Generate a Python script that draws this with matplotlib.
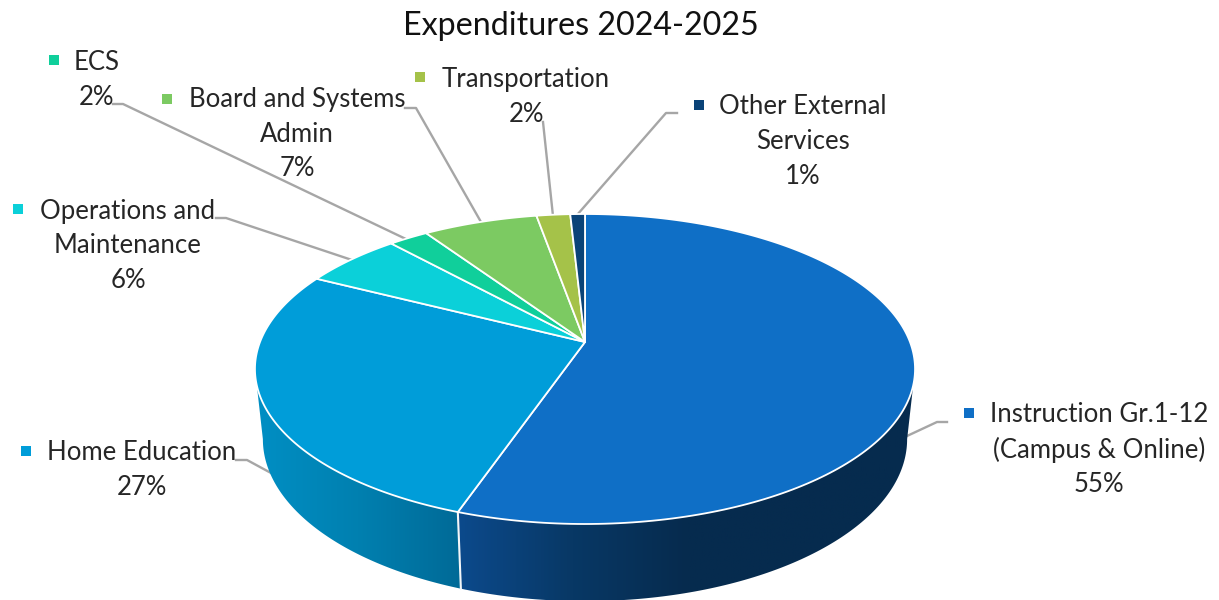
import numpy as np
import matplotlib
matplotlib.use('Agg')
import matplotlib.pyplot as plt
from matplotlib.colors import LinearSegmentedColormap
from matplotlib.patches import Polygon

# data
names = ['Instruction Gr.1-12\n(Campus & Online)', 'Home Education', 'Operations and\nMaintenance',
         'ECS', 'Board and Systems\nAdmin', 'Transportation', 'Other External\nServices']
values = [55.3, 27.2, 5.75, 2.3, 6.65, 1.95, 0.85]

# styles
colors = ['#0f6fc6', '#009dd9', '#0bd0d9', '#10cf9b', '#7cca62', '#a5c249', '#0a4378']
wall_colors = {0: ['#0c4a8c', '#083865', '#062b4e', '#062b4e', '#062b4e'], 1: ['#008fc4', '#0080b0', '#006a97']}
# label centre x, first line y, marker x, marker y
label_pos = [(1099, 415, 969, 413), (142, 453, 26, 451), (128, 211, 18, 209), (97, 63, 54, 60),
             (297, 100, 167, 99), (526, 80, 420, 77), (803, 107, 699, 105)]
leaders = [[(947, 422), (937, 422), (907, 436)],
           [(236, 460), (247, 460), (271, 473)],
           [(216, 218), (226, 218), (352, 260)],
           [(113, 104), (123, 104), (408, 240)],
           [(405, 108), (416, 108), (481, 222)],
           [(543, 122), (553, 216)],
           [(677, 113), (666, 113), (577, 215)]]

# perspective of the disc
cx, cy = 585, 342
Rx, Ry, k = 325, 150.3, 0.1742


def top_rim(theta):
    u, v = np.sin(theta), np.cos(theta)
    w = 1 + k * v
    return Rx * u / w, Ry * v / w


def bottom_rim(theta):
    X, Y = top_rim(theta)
    return cx + 0.976 * X, cy + 69 - 1.045 * Y


plt.rcParams['font.family'] = ['Lato', 'DejaVu Sans']
fig = plt.figure(figsize=(12.19, 6), dpi=100)
ax = fig.add_axes([0, 0, 1, 1])

edges = np.radians(np.concatenate([[0], np.cumsum(values)]) * 3.6)

# leader lines go under the pie
for pts in leaders:
    xs, ys = zip(*pts)
    ax.plot(xs, ys, color='#a6a6a6', lw=1.7, zorder=1, solid_joinstyle='round')

# side walls, only the two front slices show one
wall_range = {0: (np.radians(100), edges[1]), 1: (edges[1], np.radians(260))}
for i in wall_range:
    th = np.linspace(wall_range[i][0], wall_range[i][1], 120)
    X, Y = top_rim(th)
    bx, by = bottom_rim(th)
    outline = np.concatenate([np.column_stack([cx + X, cy - Y]), np.column_stack([bx, by])[::-1]])
    poly = Polygon(outline, closed=True, facecolor='none', edgecolor='none', zorder=2)
    ax.add_patch(poly)
    cmap = LinearSegmentedColormap.from_list('wall%d' % i, wall_colors[i])
    x0, x1 = outline[:, 0].min(), outline[:, 0].max()
    grad = np.linspace(0, 1, 256).reshape(1, -1)
    im = ax.imshow(grad, cmap=cmap, extent=(x0, x1, 600, 340), aspect='auto', zorder=2)
    im.set_clip_path(poly)

# white line between the two walls
X, Y = top_rim(edges[1])
bx, by = bottom_rim(edges[1])
ax.plot([cx + X, bx], [cy - Y, by], color='#f4f6f8', lw=1.5, zorder=3)

# top of the pie
for i in range(len(values)):
    th = np.linspace(edges[i], edges[i + 1], 200)
    X, Y = top_rim(th)
    pts = np.column_stack([np.r_[cx, cx + X], np.r_[cy, cy - Y]])
    ax.add_patch(Polygon(pts, closed=True, facecolor=colors[i], edgecolor='white', lw=1.3,
                         joinstyle='round', zorder=4))

# labels
for i in range(len(values)):
    lx, ly, mx, my = label_pos[i]
    lines = names[i].split('\n') + ['%d%%' % round(values[i])]
    for j, line in enumerate(lines):
        ax.text(lx, ly + j * 34.5, line, ha='center', va='center', fontsize=18.5, color='#262626', zorder=5)
    ax.scatter([mx], [my], marker='s', s=62, color=colors[i], linewidths=0, zorder=5)

ax.text(581, 26, 'Expenditures 2024-2025', ha='center', va='center', fontsize=23.2, color='#111111')

ax.set_xlim(0, 1219)
ax.set_ylim(600, 0)
ax.axis('off')
fig.savefig('out.png', dpi=100)
